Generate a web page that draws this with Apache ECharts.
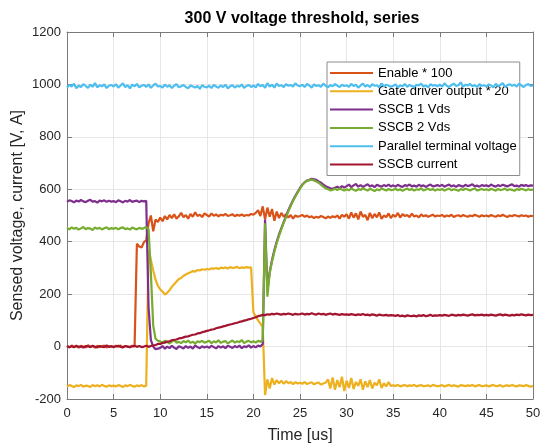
<!DOCTYPE html>
<html>
<head>
<meta charset="utf-8">
<script src="https://cdn.jsdelivr.net/npm/echarts@6/dist/echarts.min.js"></script>
<style>html,body{margin:0;padding:0;background:#fff}#c{width:541px;height:446px}</style>
</head>
<body>
<div id="c"></div>
<script>
// sampling grid: 0 to 50 us, 0.25 us step (201 samples)
const tStart = 0, tStep = 0.25, nSamples = 201;

const seriesNames = ['Enable * 100', 'Gate driver output * 20', 'SSCB 1 Vds', 'SSCB 2 Vds', 'Parallel terminal voltage', 'SSCB current'];
const xTicks = [0,5,10,15,20,25,30,35,40,45,50];
const yTicks = [-200,0,200,400,600,800,1000,1200];

const enable100 = [
2,-3,4,-2,1,-4,3,0,-3,5,-1,2,-4,3,-2,1,4,-3,0,2,
-2,3,-1,4,-3,2,0,-2,3,-1,392,382,378,398,405,470,500,440,485,475,
492,478,498,485,502,490,505,488,497,510,493,502,488,506,495,512,498,503,494,508,
502,496,508,499,504,497,503,500,506,498,501,505,497,503,499,504,498,502,500,506,
503,510,520,498,535,485,530,495,525,480,515,490,510,495,505,492,502,488,500,495,
498,502,495,500,493,497,490,495,492,498,494,489,496,491,497,493,500,488,503,495,
505,488,512,492,508,485,515,495,502,482,510,490,506,493,512,487,500,494,508,490,
503,495,510,492,505,498,502,494,507,496,500,493,504,497,501,495,499,503,496,500,
498,502,495,500,497,503,494,499,501,496,502,498,495,500,497,503,499,495,501,497,
500,496,502,498,495,501,497,503,498,494,500,497,502,499,496,501,498,500,495,499,
498];

const gate20 = [
-152,-147,-150,-155,-148,-151,-146,-153,-149,-150,-154,-147,-151,-148,-152,-146,-150,-153,-148,-151,
-149,-152,-147,-150,-154,-148,-151,-146,-150,-153,-148,-151,-147,-152,-149,370,330,290,255,232,
218,210,198,205,215,228,238,248,258,262,270,275,280,283,288,286,292,290,295,293,
296,294,298,297,300,296,301,299,302,298,303,300,301,304,299,302,300,303,301,302,
130,115,100,88,75,-185,-125,-160,-120,-145,-128,-140,-130,-142,-132,-140,-135,-143,-136,-141,
-138,-142,-135,-143,-139,-136,-144,-140,-137,-145,-141,-138,-125,-160,-118,-165,-128,-155,-115,-170,
-130,-158,-120,-162,-135,-150,-125,-165,-132,-155,-128,-160,-138,-148,-125,-158,-140,-152,-135,-150,
-148,-150,-146,-152,-149,-147,-151,-148,-150,-146,-152,-149,-147,-151,-150,-148,-152,-146,-149,-151,
-150,-147,-152,-149,-146,-151,-148,-150,-153,-147,-149,-151,-148,-150,-146,-152,-149,-147,-151,-150,
-148,-152,-149,-146,-151,-150,-147,-153,-149,-148,-151,-146,-150,-152,-148,-149,-151,-147,-150,-153,
-150];

const sscb1Vds = [
552,558,555,550,557,553,559,554,551,556,560,553,555,549,557,554,558,552,556,553,
555,551,558,554,550,556,553,559,552,555,557,551,556,554,556,150,25,0,-10,-8,
-5,2,-8,0,-6,3,-4,-9,1,-3,-7,2,-5,0,-8,4,-2,-6,1,-4,
0,-5,3,-2,-7,2,-4,1,-6,3,-1,-5,2,-3,4,-6,1,-2,5,-4,
2,-3,4,0,10,485,215,285,330,368,400,428,452,475,498,520,540,558,575,590,
605,618,627,633,636,640,638,636,630,625,618,612,608,604,602,606,610,604,612,607,
612,618,608,615,620,610,616,609,614,619,611,615,608,617,613,610,616,612,618,611,
615,610,617,612,609,616,613,618,611,614,610,617,612,615,609,614,618,611,613,616,
612,617,610,614,618,611,615,609,616,613,610,617,612,615,619,611,614,610,616,613,
615,611,618,613,610,616,612,617,614,611,615,619,612,614,610,617,613,616,612,615,
614];

const sscb2Vds = [
452,447,455,449,453,446,451,456,448,452,450,445,454,449,453,447,451,455,448,452,
449,453,447,452,455,448,451,446,454,450,447,453,449,452,456,448,280,80,30,22,
20,14,22,17,12,19,24,15,18,13,21,16,23,14,19,11,20,17,22,15,
18,22,13,20,16,24,14,19,21,12,18,23,15,20,17,25,13,19,22,16,
20,15,22,18,25,470,190,280,325,362,395,422,448,472,494,516,536,555,572,588,
602,616,626,632,635,637,634,630,625,618,610,604,600,596,598,602,597,603,599,595,
600,596,603,598,594,601,597,604,599,595,602,598,593,600,596,603,599,595,601,597,
598,602,596,600,594,599,603,597,601,595,600,598,604,596,599,602,597,601,595,600,
597,601,595,599,603,596,600,598,594,601,597,602,599,595,600,603,596,598,601,597,
600,596,602,598,595,601,597,599,603,596,600,598,594,601,597,602,599,596,600,598,
599];

const parallelV = [
988,998,992,1003,985,996,990,1001,994,987,999,991,1005,989,997,993,1000,986,995,998,
992,1001,988,996,1004,990,997,985,999,993,1002,989,995,998,991,1000,987,996,1003,992,
994,988,999,991,997,986,995,1001,989,993,998,990,985,996,992,988,994,983,997,991,
989,995,986,998,992,987,996,990,999,985,993,997,988,995,991,1000,987,994,998,990,
996,989,1002,993,998,987,1005,992,999,988,1003,994,997,990,1001,995,998,992,1004,996,
993,999,990,1002,996,988,1000,994,997,991,1003,995,989,998,993,1001,996,990,999,994,
997,991,1002,994,999,988,996,1003,992,998,990,1001,995,997,989,1004,993,999,996,991,
995,1000,989,997,993,1002,991,998,994,990,999,996,1003,992,997,989,1001,995,998,993,
999,992,1004,995,990,998,1003,994,997,1008,991,999,996,1002,993,998,990,1001,995,997,
993,1000,996,989,1002,994,998,1005,991,997,1001,995,999,992,1003,996,990,998,1001,994,
996];

const sscbCurrent = [
2,-3,1,-2,3,-1,0,-4,2,1,-2,3,-1,-3,2,0,-2,4,-1,1,
-2,1,3,-1,-3,2,0,-2,1,3,-1,2,-2,0,3,-1,2,5,6,10,
10,14,15,19,20,24,26,27,31,32,35,38,39,42,45,46,50,51,55,57,
60,62,65,66,70,72,74,77,79,82,84,86,89,91,94,96,99,101,104,106,
109,112,116,118,121,120,123,122,125,123,126,124,122,125,123,126,124,121,125,123,
124,126,122,125,123,127,124,122,126,123,125,121,124,126,122,125,123,121,124,122,
123,121,124,122,120,123,121,124,120,122,119,123,121,118,122,120,119,121,118,120,
119,117,120,116,118,115,119,117,116,118,115,119,117,120,116,118,121,117,119,118,
120,118,121,119,117,122,120,118,121,119,122,120,118,121,123,119,121,120,122,119,
121,119,122,120,118,121,123,119,122,120,118,121,119,122,120,123,121,119,122,120,
121];

const colors = ['#D95319','#EDB120','#7E2F8E','#77AC30','#4DBEEE','#A2142F'];
const allValues = [enable100, gate20, sscb1Vds, sscb2Vds, parallelV, sscbCurrent];

function pairs(vals){
  return vals.map((v,i)=>[tStart + i*tStep, v]);
}

const font = 'Arial, "Liberation Sans", Helvetica, sans-serif';
const axisCol = '#7a7a7a';
const txtCol = '#262626';

const chart = echarts.init(document.getElementById('c'), null, {renderer:'canvas'});
chart.setOption({
  animation: false,
  backgroundColor: '#fff',
  title: {
    text: '300 V voltage threshold, series',
    left: 297, top: 6, textAlign: 'center',
    textStyle: {fontFamily: font, fontSize: 16, fontWeight: 'bold', color: '#000'}
  },
  legend: {
    orient: 'vertical',
    left: 327, top: 62,
    padding: [4, 3, 4, 3],
    itemGap: 4.3,
    itemWidth: 43, itemHeight: 2,
    icon: 'rect',
    backgroundColor: '#fff',
    borderColor: '#8c8c8c', borderWidth: 1,
    textStyle: {fontFamily: font, fontSize: 13, color: '#000', lineHeight: 14, padding: [0,0,0,0]},
    data: seriesNames
  },
  grid: {left: 67, right: 8, top: 32, bottom: 47, containLabel: false, outerBoundsMode: 'none'},
  xAxis: [{
    type: 'value', min: 0, max: 50, interval: 5,
    name: 'Time [us]', nameLocation: 'middle', nameGap: 29, nameMoveOverlap: false,
    nameTextStyle: {fontFamily: font, fontSize: 16, color: txtCol},
    axisLine: {show: true, onZero: false, lineStyle: {color: axisCol, width: 1}},
    axisTick: {show: true, inside: true, length: 5, lineStyle: {color: axisCol}},
    axisLabel: {fontFamily: font, fontSize: 13, color: txtCol, margin: 8},
    splitLine: {show: true, lineStyle: {color: '#e6e6e6', width: 1}}
  },{
    type: 'value', min: 0, max: 50, interval: 5, position: 'top',
    axisLine: {show: true, onZero: false, lineStyle: {color: axisCol, width: 1}},
    axisTick: {show: true, inside: true, length: 5, lineStyle: {color: axisCol}},
    axisLabel: {show: false}, splitLine: {show: false}
  }],
  yAxis: [{
    type: 'value', min: -200, max: 1200, interval: 200,
    name: 'Sensed voltage, current [V, A]', nameLocation: 'middle', nameGap: 41, nameMoveOverlap: false,
    nameTextStyle: {fontFamily: font, fontSize: 16, color: txtCol},
    axisLine: {show: true, onZero: false, lineStyle: {color: axisCol, width: 1}},
    axisTick: {show: true, inside: true, length: 5, lineStyle: {color: axisCol}},
    axisLabel: {fontFamily: font, fontSize: 13, color: txtCol, margin: 6, formatter: v => String(v)},
    splitLine: {show: true, lineStyle: {color: '#e6e6e6', width: 1}}
  },{
    type: 'value', min: -200, max: 1200, interval: 200, position: 'right',
    axisLine: {show: true, onZero: false, lineStyle: {color: axisCol, width: 1}},
    axisTick: {show: true, inside: true, length: 5, lineStyle: {color: axisCol}},
    axisLabel: {show: false}, splitLine: {show: false}
  }],
  series: seriesNames.map((name, k) => ({
    name: name,
    type: 'line',
    xAxisIndex: 0, yAxisIndex: 0,
    data: pairs(allValues[k]),
    showSymbol: false, symbol: 'none',
    color: colors[k],
    lineStyle: {color: colors[k], width: 2.2},
    itemStyle: {color: colors[k]},
    z: 2 + k
  }))
});
</script>
</body>
</html>
